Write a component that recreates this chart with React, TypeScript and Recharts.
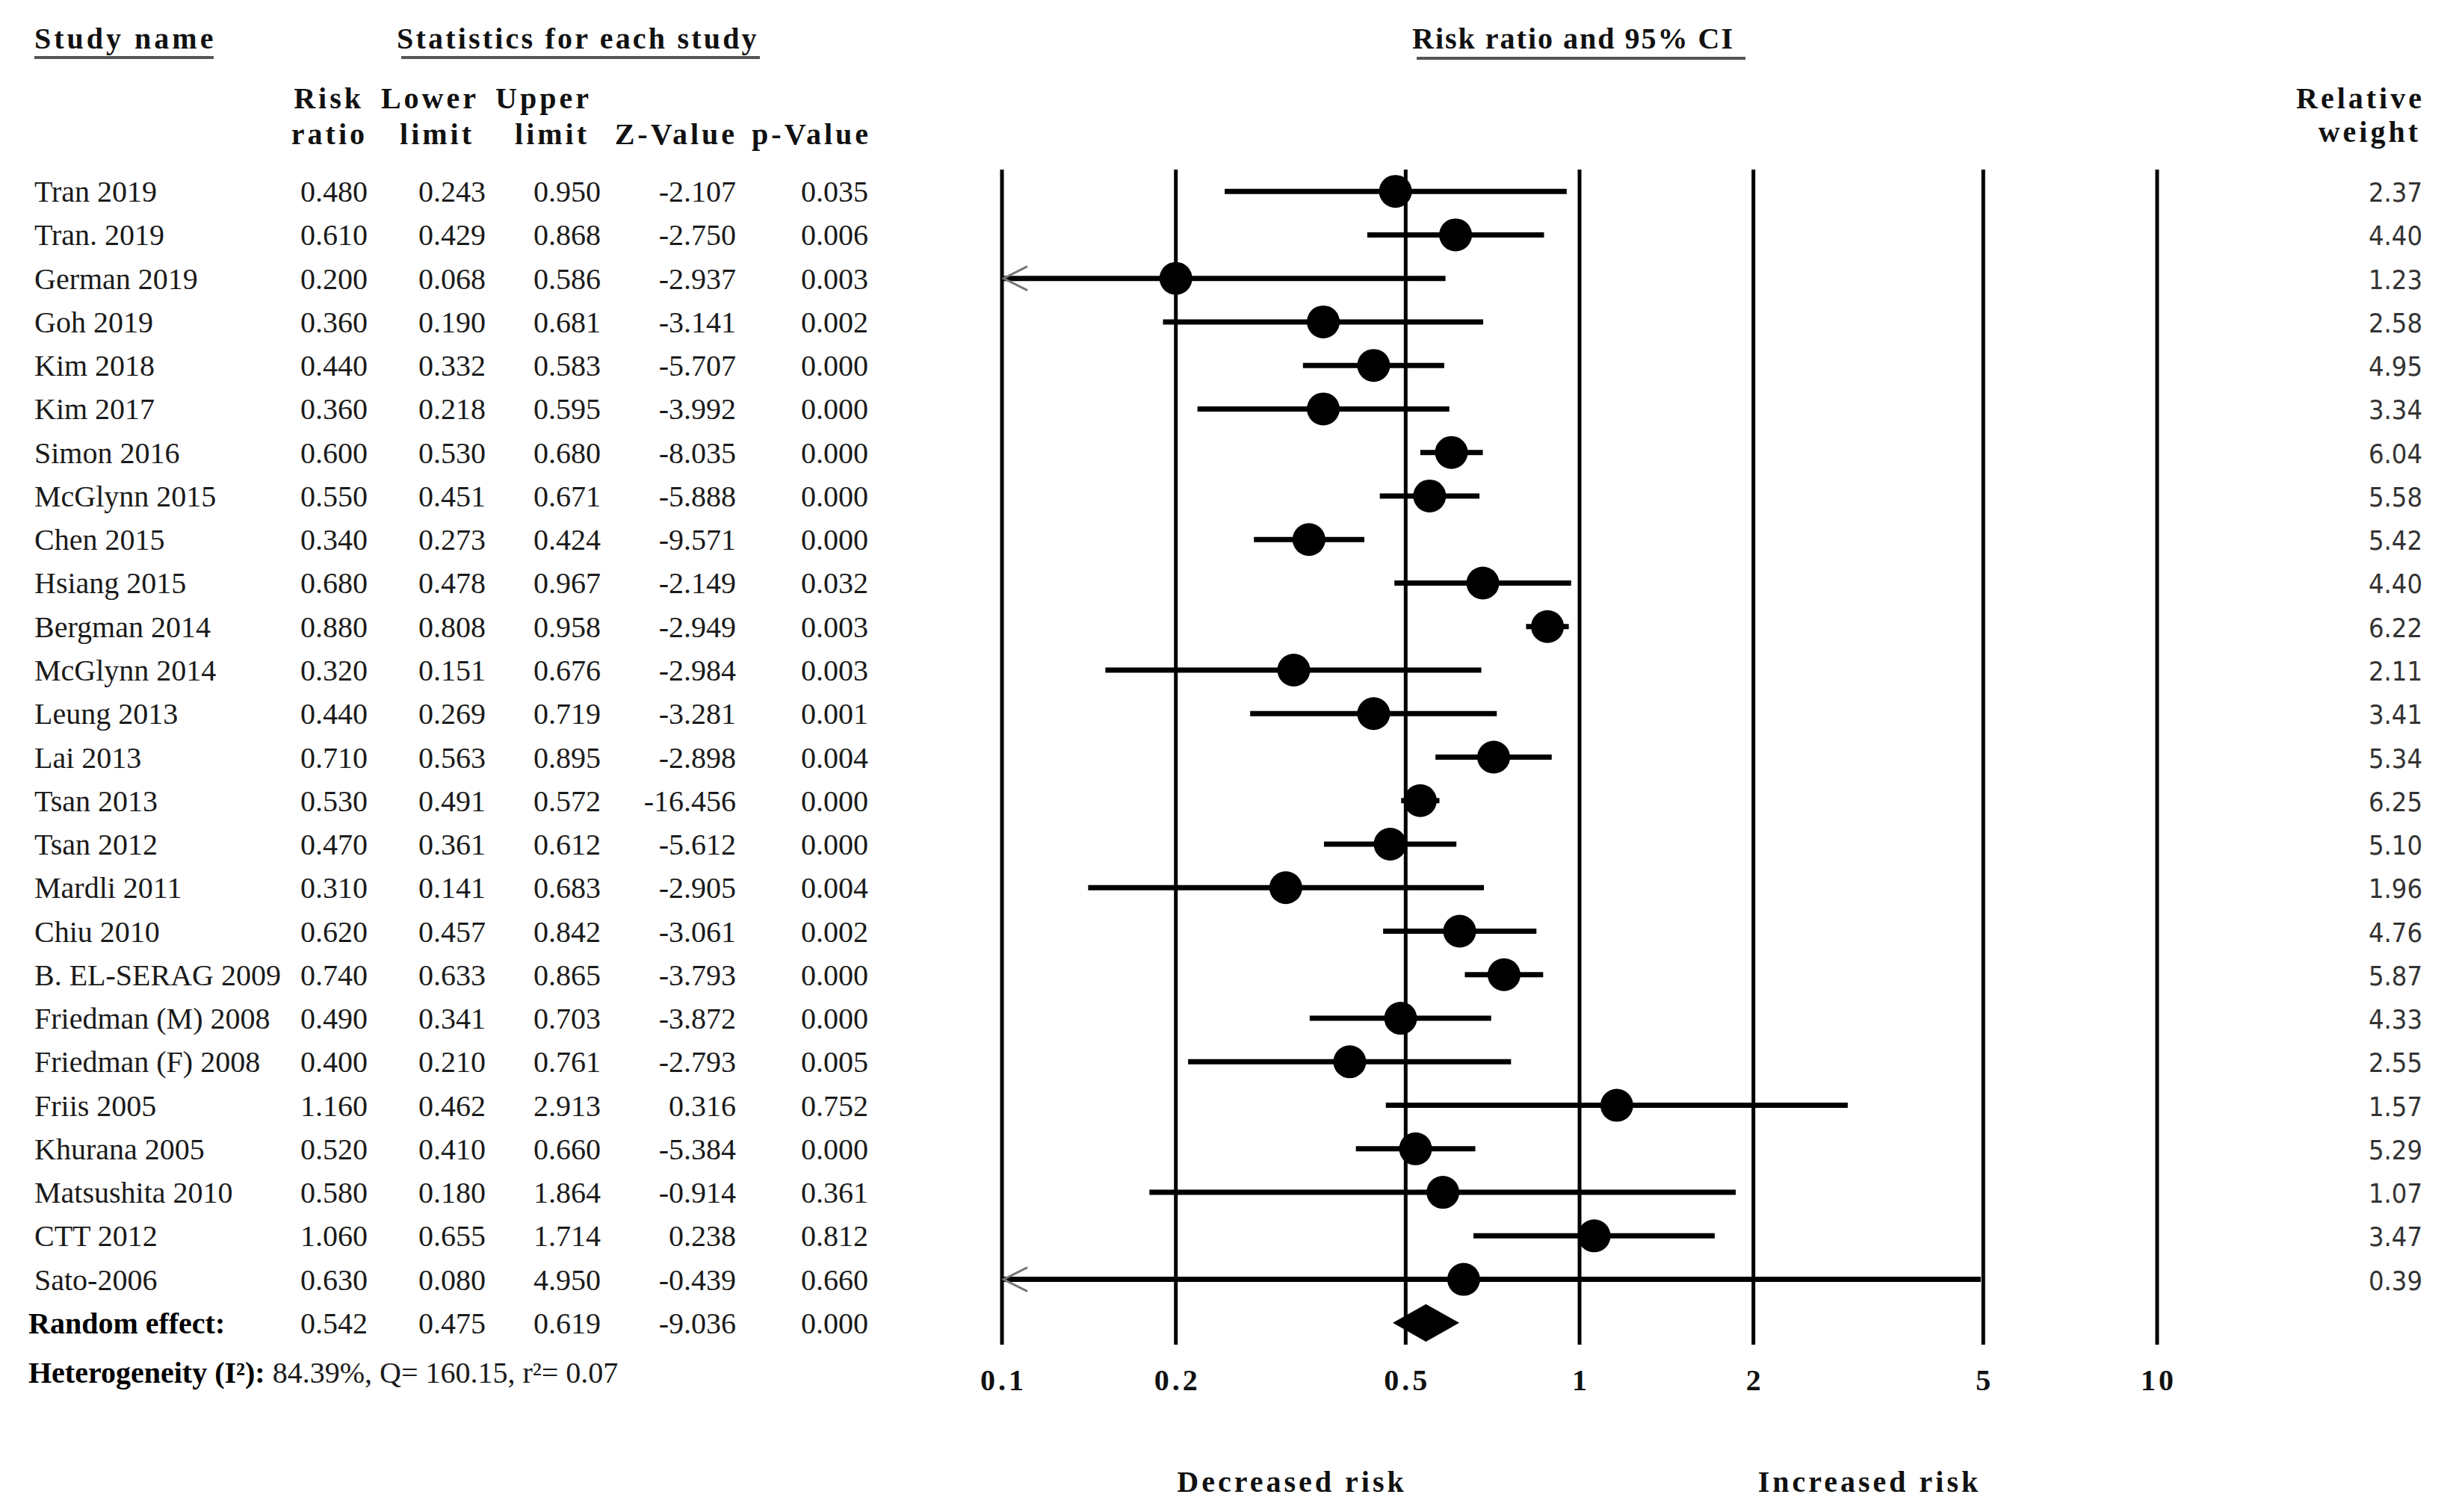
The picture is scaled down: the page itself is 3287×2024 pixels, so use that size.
import React from "react";
import { Area, ComposedChart, ErrorBar, ReferenceLine, Scatter, XAxis, YAxis } from "recharts";

const studies = [
  "Tran 2019", "Tran. 2019", "German 2019", "Goh 2019", "Kim 2018", "Kim 2017",
  "Simon 2016", "McGlynn 2015", "Chen 2015", "Hsiang 2015", "Bergman 2014",
  "McGlynn 2014", "Leung 2013", "Lai 2013", "Tsan 2013", "Tsan 2012",
  "Mardli 2011", "Chiu 2010", "B. EL-SERAG 2009", "Friedman (M) 2008",
  "Friedman (F) 2008", "Friis 2005", "Khurana 2005", "Matsushita 2010",
  "CTT 2012", "Sato-2006",
];
const riskRatio = [
  0.48, 0.61, 0.2, 0.36, 0.44, 0.36, 0.6, 0.55, 0.34, 0.68, 0.88, 0.32, 0.44,
  0.71, 0.53, 0.47, 0.31, 0.62, 0.74, 0.49, 0.4, 1.16, 0.52, 0.58, 1.06, 0.63,
];
const lowerLimit = [
  0.243, 0.429, 0.068, 0.19, 0.332, 0.218, 0.53, 0.451, 0.273, 0.478, 0.808,
  0.151, 0.269, 0.563, 0.491, 0.361, 0.141, 0.457, 0.633, 0.341, 0.21, 0.462,
  0.41, 0.18, 0.655, 0.08,
];
const upperLimit = [
  0.95, 0.868, 0.586, 0.681, 0.583, 0.595, 0.68, 0.671, 0.424, 0.967, 0.958,
  0.676, 0.719, 0.895, 0.572, 0.612, 0.683, 0.842, 0.865, 0.703, 0.761, 2.913,
  0.66, 1.864, 1.714, 4.95,
];
const zValue = [
  -2.107, -2.75, -2.937, -3.141, -5.707, -3.992, -8.035, -5.888, -9.571, -2.149,
  -2.949, -2.984, -3.281, -2.898, -16.456, -5.612, -2.905, -3.061, -3.793,
  -3.872, -2.793, 0.316, -5.384, -0.914, 0.238, -0.439,
];
const pValue = [
  0.035, 0.006, 0.003, 0.002, 0.0, 0.0, 0.0, 0.0, 0.0, 0.032, 0.003, 0.003,
  0.001, 0.004, 0.0, 0.0, 0.004, 0.002, 0.0, 0.0, 0.005, 0.752, 0.0, 0.361,
  0.812, 0.66,
];
const relativeWeight = [
  2.37, 4.4, 1.23, 2.58, 4.95, 3.34, 6.04, 5.58, 5.42, 4.4, 6.22, 2.11, 3.41,
  5.34, 6.25, 5.1, 1.96, 4.76, 5.87, 4.33, 2.55, 1.57, 5.29, 1.07, 3.47, 0.39,
];

// random effect summary
const pooledLabel = "Random effect:";
const pooledRR = 0.542;
const pooledLower = 0.475;
const pooledUpper = 0.619;
const pooledZ = -9.036;
const pooledP = 0.0;

const heterogeneityI2 = 84.39;
const heterogeneityQ = 160.15;
const heterogeneityTau2 = 0.07;

const axisTicks = [0.1, 0.2, 0.5, 1, 2, 5, 10];
const X_MIN = 0.1;
const X_MAX = 10;

const pooledRow = studies.length;
const rowTicks = [...studies.map((_, i) => i), pooledRow];

const studyPoints = studies.map((_, i) => ({
  x: riskRatio[i],
  row: i,
  err: [riskRatio[i] - Math.max(lowerLimit[i], X_MIN), upperLimit[i] - riskRatio[i]],
}));

// studies whose CI runs off the left of the axis get an arrow at the edge
const arrowPoints = studies
  .map((_, i) => ({ x: X_MIN, row: i, off: lowerLimit[i] < X_MIN }))
  .filter((d) => d.off);

const diamondHalf = 0.43;
const diamond = [
  { x: pooledLower, band: [pooledRow, pooledRow] },
  { x: pooledRR, band: [pooledRow - diamondHalf, pooledRow + diamondHalf] },
  { x: pooledUpper, band: [pooledRow, pooledRow] },
];

const SERIF = "'Liberation Serif', 'Times New Roman', serif";
const WEIGHT_FONT = "'DejaVu Sans Condensed', 'DejaVu Sans', sans-serif";
const NAME_X = 46;
const COL_X = [492, 650, 804, 985, 1162];
const WEIGHT_X = 3242;

const fmt3 = (v: number) => v.toFixed(3);

const RowTick = (props: any) => {
  const i = props.payload.value;
  const y = props.y + 14;
  const isPooled = i === pooledRow;
  const cells = isPooled
    ? [pooledRR, pooledLower, pooledUpper, pooledZ, pooledP]
    : [riskRatio[i], lowerLimit[i], upperLimit[i], zValue[i], pValue[i]];
  return (
    <g fontFamily={SERIF} fontSize={40} fill="#1a1a1a">
      <text
        x={isPooled ? 38 : NAME_X}
        y={y}
        fontWeight={isPooled ? "bold" : "normal"}
        fill={isPooled ? "#000" : "#1a1a1a"}
      >
        {isPooled ? pooledLabel : studies[i]}
      </text>
      {cells.map((v, k) => (
        <text key={k} x={COL_X[k]} y={y} textAnchor="end">
          {fmt3(v)}
        </text>
      ))}
      {!isPooled && (
        <text
          x={WEIGHT_X}
          y={y}
          textAnchor="end"
          fontFamily={WEIGHT_FONT}
          fontSize={36}
          fill="#333"
        >
          {relativeWeight[i].toFixed(2)}
        </text>
      )}
    </g>
  );
};

const AxisTick = (props: any) => (
  <text
    x={props.x + 2}
    y={props.y + 61}
    textAnchor="middle"
    fontFamily={SERIF}
    fontSize={40}
    fontWeight="bold"
    letterSpacing={4}
    fill="#111"
  >
    {String(props.payload.value)}
  </text>
);

const Dot = (props: any) => <circle cx={props.cx} cy={props.cy} r={22} fill="#000" />;

const Arrow = (props: any) => (
  <path
    d={`M${props.cx + 34},${props.cy - 16} L${props.cx + 2},${props.cy} L${props.cx + 34},${props.cy + 16}`}
    stroke="#777"
    strokeWidth={3}
    fill="none"
  />
);

const head = {
  fontFamily: SERIF,
  fontSize: 40,
  fontWeight: "bold" as const,
  letterSpacing: 4,
  fill: "#111",
};

export default function App() {
  return (
    <div style={{ position: "absolute", left: 0, top: 0, width: 3287, height: 2024, background: "#fff" }}>
      <ComposedChart
        width={3287}
        height={2024}
        margin={{ top: 227, right: 400, bottom: 0, left: 0 }}
      >
        <XAxis
          dataKey="x"
          type="number"
          scale="log"
          domain={[X_MIN, X_MAX]}
          allowDataOverflow
          ticks={axisTicks}
          interval={0}
          axisLine={false}
          tickLine={false}
          tickSize={0}
          tickMargin={0}
          height={224}
          tick={(p: any) => <AxisTick {...p} />}
        />
        <YAxis
          dataKey="row"
          type="number"
          domain={[-0.5, 26.5]}
          reversed
          ticks={rowTicks}
          interval={0}
          width={1341}
          axisLine={false}
          tickLine={false}
          tick={(p: any) => <RowTick {...p} />}
        />
        {axisTicks.map((t) => (
          <ReferenceLine key={t} x={t} stroke="#000" strokeWidth={5} ifOverflow="visible" />
        ))}
        <Scatter data={studyPoints} shape={Dot} isAnimationActive={false}>
          <ErrorBar
            dataKey="err"
            direction="x"
            width={0}
            strokeWidth={7}
            stroke="#000"
            isAnimationActive={false}
          />
        </Scatter>
        <Scatter data={arrowPoints} shape={Arrow} isAnimationActive={false} />
        <Area
          data={diamond}
          dataKey="band"
          type="linear"
          stroke="none"
          fill="#000"
          fillOpacity={1}
          dot={false}
          activeDot={false}
          isAnimationActive={false}
        />
      </ComposedChart>

      <svg
        width={3287}
        height={2024}
        style={{ position: "absolute", left: 0, top: 0, pointerEvents: "none" }}
      >
        <text x={46} y={65} {...head}>Study name</text>
        <line x1={46} x2={286} y1={77} y2={77} stroke="#555" strokeWidth={4} />
        <text x={531} y={65} {...head} letterSpacing={3.2}>Statistics for each study</text>
        <line x1={537} x2={1017} y1={77} y2={77} stroke="#555" strokeWidth={4} />
        <text x={1890} y={65} {...head} letterSpacing={2}>Risk ratio and 95% CI</text>
        <line x1={1896} x2={2336} y1={78} y2={78} stroke="#555" strokeWidth={4} />

        <text x={487} y={145} textAnchor="end" {...head}>Risk</text>
        <text x={492} y={193} textAnchor="end" {...head}>ratio</text>
        <text x={641} y={145} textAnchor="end" {...head}>Lower</text>
        <text x={635} y={193} textAnchor="end" {...head}>limit</text>
        <text x={792} y={145} textAnchor="end" {...head}>Upper</text>
        <text x={789} y={193} textAnchor="end" {...head}>limit</text>
        <text x={987} y={193} textAnchor="end" {...head}>Z-Value</text>
        <text x={1166} y={193} textAnchor="end" {...head}>p-Value</text>
        <text x={3245} y={145} textAnchor="end" {...head}>Relative</text>
        <text x={3240} y={190} textAnchor="end" {...head}>weight</text>

        <text x={38} y={1851} fontFamily={SERIF} fontSize={40} fill="#1a1a1a">
          <tspan fontWeight="bold" fill="#000">Heterogeneity (I²): </tspan>
          <tspan>{`${heterogeneityI2}%, Q= ${heterogeneityQ}, r²= ${heterogeneityTau2}`}</tspan>
        </text>

        <text x={1729} y={1997} textAnchor="middle" {...head}>Decreased risk</text>
        <text x={2502} y={1997} textAnchor="middle" {...head}>Increased risk</text>
      </svg>
    </div>
  );
}
